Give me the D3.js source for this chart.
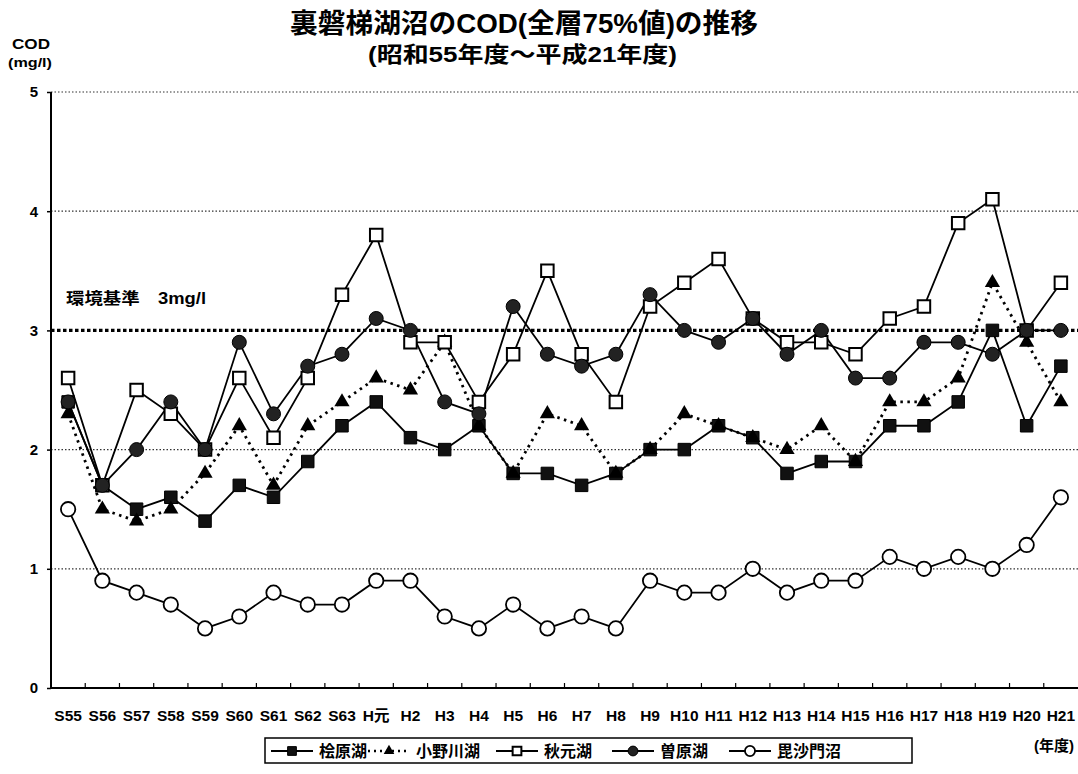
<!DOCTYPE html>
<html><head><meta charset="utf-8">
<script src="https://cdn.jsdelivr.net/npm/d3@7"></script>
<style>
html,body{margin:0;padding:0;background:#fff;}
svg{display:block;}
text{font-family:'Liberation Sans','Noto Sans CJK JP',sans-serif;fill:#000;}
</style></head>
<body>
<svg id="chart" width="1078" height="774"></svg>
<script>
// ---- data ----
const categories = ["S55","S56","S57","S58","S59","S60","S61","S62","S63","H元","H2","H3","H4","H5","H6","H7","H8","H9","H10","H11","H12","H13","H14","H15","H16","H17","H18","H19","H20","H21"];
const hibara   = [2.4,1.7,1.5,1.6,1.4,1.7,1.6,1.9,2.2,2.4,2.1,2.0,2.2,1.8,1.8,1.7,1.8,2.0,2.0,2.2,2.1,1.8,1.9,1.9,2.2,2.2,2.4,3.0,2.2,2.7];
const onogawa  = [2.3,1.5,1.4,1.5,1.8,2.2,1.7,2.2,2.4,2.6,2.5,2.9,2.2,1.8,2.3,2.2,1.8,2.0,2.3,2.2,2.1,2.0,2.2,1.9,2.4,2.4,2.6,3.4,2.9,2.4];
const akimoto  = [2.6,1.7,2.5,2.3,2.0,2.6,2.1,2.6,3.3,3.8,2.9,2.9,2.4,2.8,3.5,2.8,2.4,3.2,3.4,3.6,3.1,2.9,2.9,2.8,3.1,3.2,3.9,4.1,3.0,3.4];
const sohara   = [2.4,1.7,2.0,2.4,2.0,2.9,2.3,2.7,2.8,3.1,3.0,2.4,2.3,3.2,2.8,2.7,2.8,3.3,3.0,2.9,3.1,2.8,3.0,2.6,2.6,2.9,2.9,2.8,3.0,3.0];
const bishamon = [1.5,0.9,0.8,0.7,0.5,0.6,0.8,0.7,0.7,0.9,0.9,0.6,0.5,0.7,0.5,0.6,0.5,0.9,0.8,0.8,1.0,0.8,0.9,0.9,1.1,1.0,1.1,1.0,1.2,1.6];
const seriesNames = ["桧原湖","小野川湖","秋元湖","曽原湖","毘沙門沼"];
const yTicks = [0,1,2,3,4,5];
const gridValues = [1,2,4,5];
const standardValue = 3;
const titleText = "裏磐梯湖沼のCOD(全層75%値)の推移";
const subtitleText = "(昭和55年度～平成21年度)";
const standardLabel = "環境基準　3mg/l";

// ---- layout ----
const svg = d3.select("#chart");
const pL = 51, pR = 1078, pT = 92, pB = 688;
const x = d3.scaleBand().domain(categories).range([pL, pR]).paddingInner(0).paddingOuter(0);
const cx = c => x(c) + x.bandwidth()/2;
const y = d3.scaleLinear().domain([0,5]).range([pB, pT]);

const series = [
  {name: seriesNames[0], values: hibara,  type:"sqFill",  dash:null},
  {name: seriesNames[1], values: onogawa, type:"triFill", dash:"2.5,4.5"},
  {name: seriesNames[2], values: akimoto, type:"sqOpen",  dash:null},
  {name: seriesNames[3], values: sohara,  type:"cirFill", dash:null},
  {name: seriesNames[4], values: bishamon,type:"cirOpen", dash:null}
];

// titles
svg.append("text").attr("x", 290).attr("y", 33).attr("textLength", 468).attr("lengthAdjust","spacingAndGlyphs")
  .style("font-size","27px").style("font-weight","bold").text(titleText);
svg.append("text").attr("x", 368).attr("y", 62).attr("textLength", 309).attr("lengthAdjust","spacingAndGlyphs")
  .style("font-size","22px").style("font-weight","bold").text(subtitleText);
svg.append("text").attr("x", 31).attr("y", 49).attr("text-anchor","middle").attr("textLength", 38).attr("lengthAdjust","spacingAndGlyphs")
  .style("font-size","14px").style("font-weight","bold").text("COD");
svg.append("text").attr("x", 30).attr("y", 67).attr("text-anchor","middle").attr("textLength", 44).attr("lengthAdjust","spacingAndGlyphs")
  .style("font-size","13px").style("font-weight","bold").text("(mg/l)");

// grid lines
svg.append("g").selectAll("line").data(gridValues).join("line")
  .attr("x1", pL).attr("x2", pR).attr("y1", d=>y(d)).attr("y2", d=>y(d))
  .attr("stroke","#333").attr("stroke-width",1.2).attr("stroke-dasharray","1.5,2");

// standard line
svg.append("line").attr("x1", pL).attr("x2", pR).attr("y1", y(standardValue)).attr("y2", y(standardValue))
  .attr("stroke","#000").attr("stroke-width",3.4).attr("stroke-dasharray","3.5,2.5");
svg.append("text").attr("x", 66).attr("y", 304).attr("textLength", 140).attr("lengthAdjust","spacingAndGlyphs")
  .style("font-size","16px").style("font-weight","bold").text(standardLabel);

// axes
const yAxis = d3.axisLeft(y).tickValues(yTicks).tickSize(4).tickFormat(d3.format("d"));
const gy = svg.append("g").attr("transform",`translate(${pL},0)`).call(yAxis);
gy.select(".domain").attr("stroke","#000").attr("stroke-width",2).attr("d",`M0,${pT}V${pB}`);
gy.selectAll(".tick line").attr("stroke","#000").attr("stroke-width",1.5);
gy.selectAll(".tick text").attr("x",-13).style("font-size","15px").style("font-weight","bold")
  .style("font-family","'Liberation Sans',sans-serif");

const xAxis = d3.axisBottom(x).tickSize(0).tickPadding(22);
const gx = svg.append("g").attr("transform",`translate(0,${pB})`).call(xAxis);
gx.select(".domain").attr("stroke","#000").attr("stroke-width",2).attr("d",`M${pL},0H${pR}`);
gx.selectAll(".tick text").style("font-size","15.5px").style("font-weight","bold")
  .style("font-family","'Liberation Sans','Noto Sans CJK JP',sans-serif");
// inward ticks at category boundaries
svg.append("g").selectAll("line").data(categories.slice(1)).join("line")
  .attr("x1", d=>x(d)).attr("x2", d=>x(d)).attr("y1", pB).attr("y2", pB-5)
  .attr("stroke","#000").attr("stroke-width",1.2);

svg.append("text").attr("x", 1074).attr("y", 751).attr("text-anchor","end")
  .style("font-size","15px").style("font-weight","bold").text("(年度)");

// lines
const line = d3.line().x((d,i)=>cx(categories[i])).y(d=>y(d));
svg.append("g").selectAll("path").data(series).join("path")
  .attr("d", s=>line(s.values)).attr("fill","none").attr("stroke","#000")
  .attr("stroke-width", s=> s.dash ? 2.8 : 1.8)
  .attr("stroke-dasharray", s=> s.dash);

function drawMarker(g, type, px, py, scale) {
  scale = scale || 1;
  if (type === "sqFill") {
    g.append("path").attr("d", d3.symbol(d3.symbolSquare, 156*scale*scale)()).attr("transform",`translate(${px},${py})`)
      .attr("fill","#111").attr("stroke","#000").attr("stroke-width",1);
  } else if (type === "sqOpen") {
    g.append("path").attr("d", d3.symbol(d3.symbolSquare, 156*scale*scale)()).attr("transform",`translate(${px},${py})`)
      .attr("fill","#fff").attr("stroke","#000").attr("stroke-width",2);
  } else if (type === "triFill") {
    g.append("path").attr("d", d3.symbol(d3.symbolTriangle, 100*scale*scale)()).attr("transform",`translate(${px},${py})`)
      .attr("fill","#000");
  } else if (type === "cirFill") {
    g.append("circle").attr("cx",px).attr("cy",py).attr("r",7*scale).attr("fill","#222").attr("stroke","#000").attr("stroke-width",1);
  } else if (type === "cirOpen") {
    g.append("circle").attr("cx",px).attr("cy",py).attr("r",7.2*scale).attr("fill","#fff").attr("stroke","#000").attr("stroke-width",1.8);
  }
}

const mg = svg.append("g");
series.forEach(s => {
  s.values.forEach((v,i) => drawMarker(mg, s.type, cx(categories[i]), y(v)));
});

// legend
const lg = svg.append("g");
lg.append("rect").attr("x",265).attr("y",738).attr("width",647).attr("height",25)
  .attr("fill","#fff").attr("stroke","#000").attr("stroke-width",1.5);
const legendStarts = [271, 368, 496, 612, 729];
series.forEach((s,i) => {
  const sx = legendStarts[i], ly = 751;
  lg.append("line").attr("x1",sx).attr("x2",sx+42).attr("y1",ly).attr("y2",ly)
    .attr("stroke","#000").attr("stroke-width", s.dash ? 2.4 : 2).attr("stroke-dasharray", s.dash ? "2,4" : null);
  drawMarker(lg, s.type, sx+21, ly, 0.7);
  lg.append("text").attr("x", sx+48).attr("y", ly+6).style("font-size","16px").style("font-weight","bold").text(s.name);
});
</script>
</body></html>
